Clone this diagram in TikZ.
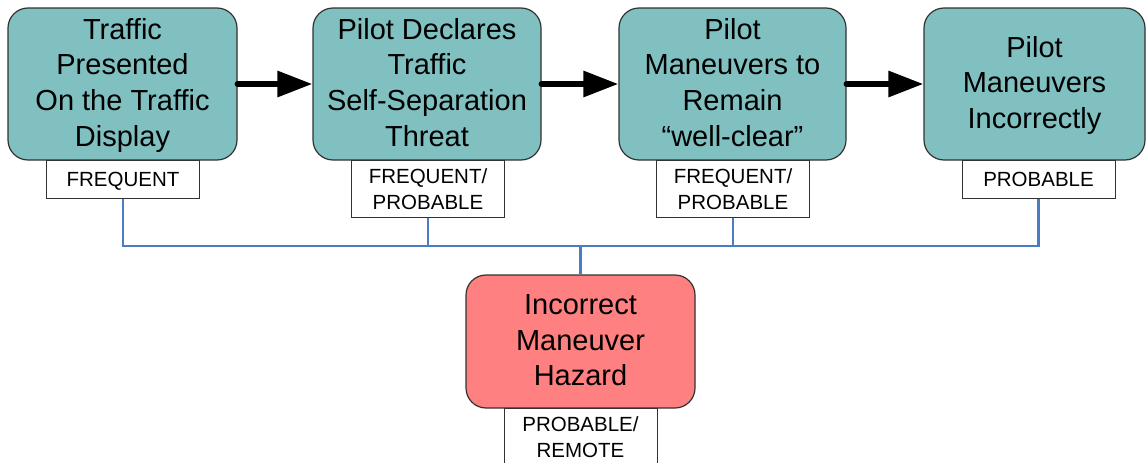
\documentclass[tikz,border=0pt]{standalone}
\usepackage{fontspec}
\setmainfont{Liberation Sans}
\usetikzlibrary{arrows.meta}

\definecolor{stepteal}{RGB}{128,192,192}
\definecolor{hazardred}{RGB}{255,128,128}
\definecolor{busblue}{RGB}{74,124,196}
\definecolor{edgegray}{RGB}{50,50,50}

% struts: one at the head of the first line, one after the last line,
% so that every text block is centred on the same optical line
\newcommand\topstrut{\rule{0pt}{0.9em}}
\newcommand\bigfoot{\rule[-0.3em]{0pt}{0pt}}
\newcommand\tagfoot{\rule[-0.2em]{0pt}{0pt}}

\tikzset{
  eventbox/.style={draw=edgegray, line width=1.2pt, fill=stepteal, rounded corners=20pt,
    minimum height=152pt, align=center, inner sep=0pt,
    font=\fontsize{29}{35.7}\selectfont,
    execute at end node=\bigfoot},
  hazardbox/.style={eventbox, fill=hazardred, minimum height=133pt, minimum width=229pt},
  ratebox/.style={draw=edgegray, line width=0.9pt, fill=white, minimum width=153pt,
    align=center, inner sep=0pt, font=\fontsize{20.5}{26}\selectfont,
    execute at end node=\tagfoot},
  flowarrow/.style={line width=6pt, line cap=round,
    -{Triangle[length=35pt,width=25pt]}},
  busline/.style={draw=busblue, line width=2.8pt}
}

\begin{document}
\begin{tikzpicture}[x=1pt, y=-1pt]
  \useasboundingbox (0,0) rectangle (1146,463);

  % process steps
  \node[eventbox, minimum width=229pt] (s1) at (122.5,84)
    {\topstrut Traffic\\Presented\\On the Traffic\\Display};
  \node[eventbox, minimum width=228pt] (s2) at (427,84)
    {\topstrut Pilot Declares\\Traffic\\Self-Separation\\Threat};
  \node[eventbox, minimum width=227pt] (s3) at (732.5,84)
    {\topstrut Pilot\\Maneuvers to\\Remain\\“well-clear”};
  \node[eventbox, minimum width=221pt] (s4) at (1034.5,84)
    {\topstrut Pilot\\Maneuvers\\Incorrectly};

  % likelihood labels under each step
  \node[ratebox, minimum height=38pt, anchor=north] (r1) at (123,160)
    {\topstrut FREQUENT};
  \node[ratebox, minimum height=57pt, anchor=north] (r2) at (428,160)
    {\topstrut FREQUENT/\\PROBABLE};
  \node[ratebox, minimum height=57pt, anchor=north] (r3) at (733,160)
    {\topstrut FREQUENT/\\PROBABLE};
  \node[ratebox, minimum height=38pt, anchor=north] (r4) at (1038.5,160)
    {\topstrut PROBABLE};

  % resulting hazard
  \node[hazardbox] (hz) at (580.5,341.5)
    {\topstrut Incorrect\\Maneuver\\Hazard};
  \node[ratebox, minimum height=57pt, anchor=north] (rh) at (580.5,408)
    {\topstrut PROBABLE/\\REMOTE};

  % sequence arrows
  \draw[flowarrow] (s1.east) -- (s2.west);
  \draw[flowarrow] (s2.east) -- (s3.west);
  \draw[flowarrow] (s3.east) -- (s4.west);

  % bus joining the labels to the hazard
  \coordinate (junc) at (580.5,246);
  \draw[busline] (r1.south) |- (junc) -| (r4.south);
  \draw[busline] (r2.south) -- (r2.south |- junc);
  \draw[busline] (r3.south) -- (r3.south |- junc);
  \draw[busline] (junc) -- (hz.north);
\end{tikzpicture}
\end{document}
